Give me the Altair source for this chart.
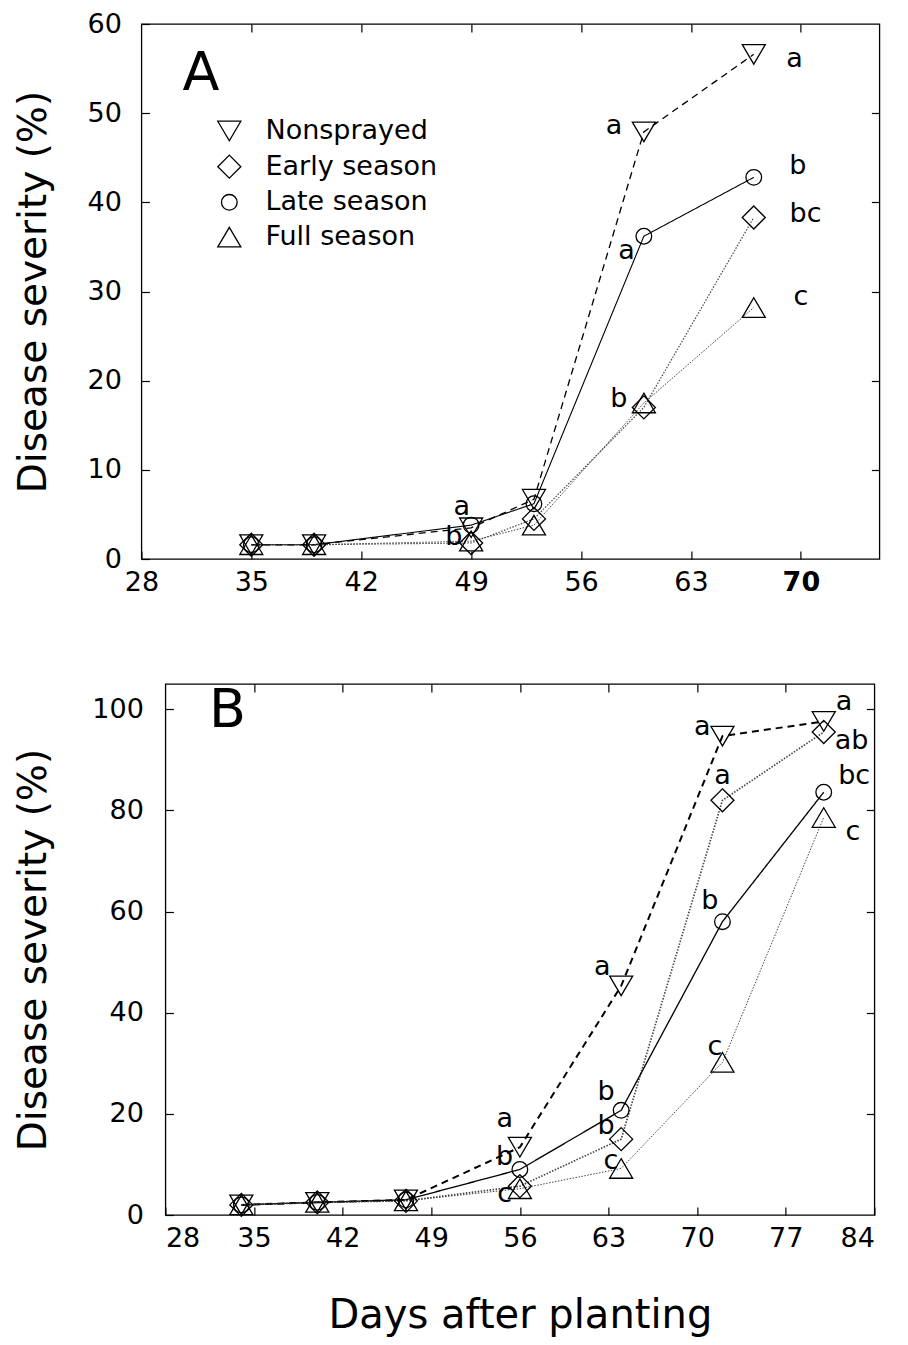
import altair as alt
import pandas as pd

SERIES = ["Nonsprayed", "Early season", "Late season", "Full season"]

# ---- Panel A data ----
days_a = [35, 39, 49, 53, 60, 67]
nonsprayed_a = [1.6, 1.6, 3.5, 6.7, 47.9, 56.6]
early_a = [1.6, 1.6, 1.8, 4.5, 17.0, 38.3]
late_a = [1.6, 1.6, 3.8, 6.2, 36.2, 42.8]
full_a = [1.6, 1.6, 2.0, 3.8, 17.5, 28.2]

letters_a = ["a", "a", "b", "bc", "a", "c", "b", "a", "b"]
letter_day_a = [69.6, 58.1, 69.8, 70.3, 58.9, 70.0, 58.4, 48.4, 47.9]
letter_val_a = [56.1, 48.6, 44.1, 38.7, 34.5, 29.4, 17.9, 5.8, 2.5]

# legend entries of panel A (placed in data coordinates, inside panel A)
legend_sym_day = 33.6
legend_txt_day = 35.9
legend_vals = [48.0, 44.0, 40.0, 36.1]

# ---- Panel B data ----
days_b = [34, 40, 47, 56, 64, 72, 80]
nonsprayed_b = [2.0, 2.5, 3.0, 13.4, 45.3, 94.7, 97.6]
early_b = [2.0, 2.5, 2.8, 5.7, 15.0, 82.0, 95.5]
late_b = [2.0, 2.5, 3.0, 9.0, 20.7, 58.0, 83.6]
full_b = [2.0, 2.5, 2.8, 5.2, 9.2, 30.2, 78.6]

letters_b = ["a", "b", "c", "a", "b", "b", "c", "a", "a", "b", "c", "a", "ab", "bc", "c"]
letter_day_b = [54.8, 54.8, 54.8, 62.5, 62.8, 62.8, 63.2, 70.4, 72.0, 71.0, 71.4, 81.6, 82.2, 82.4, 82.3]
letter_val_b = [19.0, 11.5, 4.1, 49.0, 24.3, 17.6, 10.7, 96.4, 86.8, 62.0, 33.2, 101.4, 93.7, 86.8, 75.7]

panel_labels = ["A", "B"]
panel_label_day = [31.8, 32.9]
panel_label_val = [54.4, 99.6]

FONT = "DejaVu Sans"

SHAPES = [
    "M-1,-0.85L1,-0.85L0,0.85Z",
    "M0,-1L1,0L0,1L-1,0Z",
    "M0.68,0A0.68,0.68 0 1,1 -0.68,0A0.68,0.68 0 1,1 0.68,0Z",
    "M0,-0.85L1,0.85L-1,0.85Z",
]
LINE_DASH = [[7, 5], [1.5, 1.5], [1, 0], [1.5, 1.5]]
LINE_COLOR = ["black", "#444444", "black", "#444444"]


def long_df(days, cols):
    rows = []
    for name, vals in zip(SERIES, cols):
        for d, v in zip(days, vals):
            rows.append({"day": d, "value": v, "series": name, "line": name})
    return pd.DataFrame(rows)


def panel(days, cols, letters, ldays, lvals, plabel, pday, pval,
          xdom, xticks, ydom, yticks, w, h, widths, xtitle, show_legend,
          ylab_pad, ytitle_pad, bold_tick, flush, right_pad):
    df = long_df(days, cols)
    ann = pd.DataFrame({"day": ldays, "value": lvals, "txt": letters})
    pl = pd.DataFrame({"day": [pday], "value": [pval], "txt": [plabel]})

    xs = alt.Scale(domain=xdom, nice=False, zero=False)
    ys = alt.Scale(domain=ydom, nice=False, zero=False)
    shape_scale = alt.Scale(domain=SERIES, range=SHAPES)

    xaxis_kw = dict(orient="bottom", values=xticks, offset=-8, tickSize=8,
                    domain=False, grid=False, labelPadding=10, labelFontSize=27,
                    labelFont=FONT, tickColor="black", labelColor="black",
                    tickWidth=1.2, labelFlush=flush)
    if bold_tick is not None:
        xaxis_kw["labelFontWeight"] = {
            "condition": {"test": f"datum.value == {bold_tick}", "value": "bold"},
            "value": "normal"}
    if xtitle:
        xaxis_kw.update(title=xtitle, titleFontSize=40, titleFont=FONT,
                        titleFontWeight="normal", titlePadding=44,
                        titleColor="black")
    else:
        xaxis_kw.update(title=None)

    lines = alt.Chart(df).mark_line().encode(
        x=alt.X("day:Q", scale=xs, axis=alt.Axis(**xaxis_kw)),
        y=alt.Y("value:Q", scale=ys, axis=alt.Axis(
            orient="left", values=yticks, offset=-8, tickSize=8, domain=False,
            grid=False, labelPadding=ylab_pad, labelFontSize=27, labelFont=FONT,
            tickColor="black", labelColor="black", tickWidth=1.2,
            title="Disease severity (%)", titleFontSize=39, titleFont=FONT,
            titleFontWeight="normal", titlePadding=ytitle_pad, titleColor="black")),
        detail="line:N",
        order="day:Q",
        color=alt.Color("line:N", scale=alt.Scale(domain=SERIES, range=LINE_COLOR),
                        legend=None),
        strokeDash=alt.StrokeDash("line:N", scale=alt.Scale(domain=SERIES, range=LINE_DASH),
                                  legend=None),
        strokeWidth=alt.StrokeWidth("line:N", scale=alt.Scale(domain=SERIES, range=widths),
                                    legend=None),
    )

    right_ticks = [v for v in yticks if v != ydom[0] and v < ydom[1]]
    top_ticks = [v for v in xticks if v != xdom[0] and v < xdom[1]]
    if right_pad is not None:
        # right-hand tick marks; labels in white only reserve room for the layout
        yright = alt.Axis(orient="right", values=right_ticks, offset=-8, tickSize=8,
                          labels=True, labelColor="white", labelFontSize=14,
                          labelPadding=right_pad, domain=False, grid=False,
                          tickColor="black", tickWidth=1.2, title=None)
    else:
        yright = alt.Axis(orient="right", values=right_ticks, offset=-8, tickSize=8,
                          labels=False, domain=False, grid=False,
                          tickColor="black", tickWidth=1.2, title=None)

    pts = alt.Chart(df).mark_point(filled=False, color="black", strokeWidth=1.3,
                                   size=530, opacity=1).encode(
        x=alt.X("day:Q", axis=alt.Axis(orient="top", values=top_ticks, offset=-8,
                                       tickSize=8, labels=False, domain=False, grid=False,
                                       tickColor="black", tickWidth=1.2, title=None)),
        y=alt.Y("value:Q", axis=yright),
        shape=alt.Shape("series:N", scale=shape_scale, legend=None),
    )

    txt = alt.Chart(ann).mark_text(fontSize=27, font=FONT, color="black",
                                   align="center", baseline="middle").encode(
        x=alt.X("day:Q", axis=None),
        y=alt.Y("value:Q", axis=None),
        text="txt:N",
    )
    big = alt.Chart(pl).mark_text(fontSize=54, font=FONT, color="black",
                                  align="center", baseline="middle").encode(
        x=alt.X("day:Q", axis=None),
        y=alt.Y("value:Q", axis=None),
        text="txt:N",
    )
    layers = [lines, pts, txt, big]

    if show_legend:
        leg = pd.DataFrame({"series": SERIES, "value": legend_vals,
                            "sday": [legend_sym_day] * 4,
                            "tday": [legend_txt_day] * 4})
        leg_sym = alt.Chart(leg).mark_point(filled=False, color="black",
                                            strokeWidth=1.3, size=530,
                                            opacity=1).encode(
            x=alt.X("sday:Q", axis=None),
            y=alt.Y("value:Q", axis=None),
            shape=alt.Shape("series:N", scale=shape_scale, legend=None),
        )
        leg_txt = alt.Chart(leg).mark_text(fontSize=27, font=FONT, color="black",
                                           align="left", baseline="middle").encode(
            x=alt.X("tday:Q", axis=None),
            y=alt.Y("value:Q", axis=None),
            text="series:N",
        )
        layers += [leg_sym, leg_txt]

    return alt.layer(*layers).resolve_axis(
        x="independent", y="independent").properties(width=w, height=h)


chart_a = panel(days_a, [nonsprayed_a, early_a, late_a, full_a],
                letters_a, letter_day_a, letter_val_a,
                panel_labels[0], panel_label_day[0], panel_label_val[0],
                [28, 75], [28, 35, 42, 49, 56, 63, 70], [0, 60],
                [0, 10, 20, 30, 40, 50, 60], 738, 535,
                [1.3, 1.0, 1.3, 1.0], None, True, 20, 34, 70, False, 4)

chart_b = panel(days_b, [nonsprayed_b, early_b, late_b, full_b],
                letters_b, letter_day_b, letter_val_b,
                panel_labels[1], panel_label_day[1], panel_label_val[1],
                [28, 84], [28, 35, 42, 49, 56, 63, 70, 77, 84], [0, 105],
                [0, 20, 40, 60, 80, 100], 709, 531,
                [2.0, 1.0, 2.0, 1.0], "Days after planting", False, 22, 38, None,
                True, None)

chart = alt.vconcat(chart_a, chart_b, spacing=86, center=True,
                    padding={"left": 5, "top": 1, "right": 0, "bottom": 5}).resolve_scale(
    shape="independent", color="independent", strokeDash="independent",
    strokeWidth="independent", x="independent", y="independent"
).configure_view(stroke="black", strokeWidth=1.3)

chart.save("out.html", embed_options={"renderer": "svg", "actions": False})
